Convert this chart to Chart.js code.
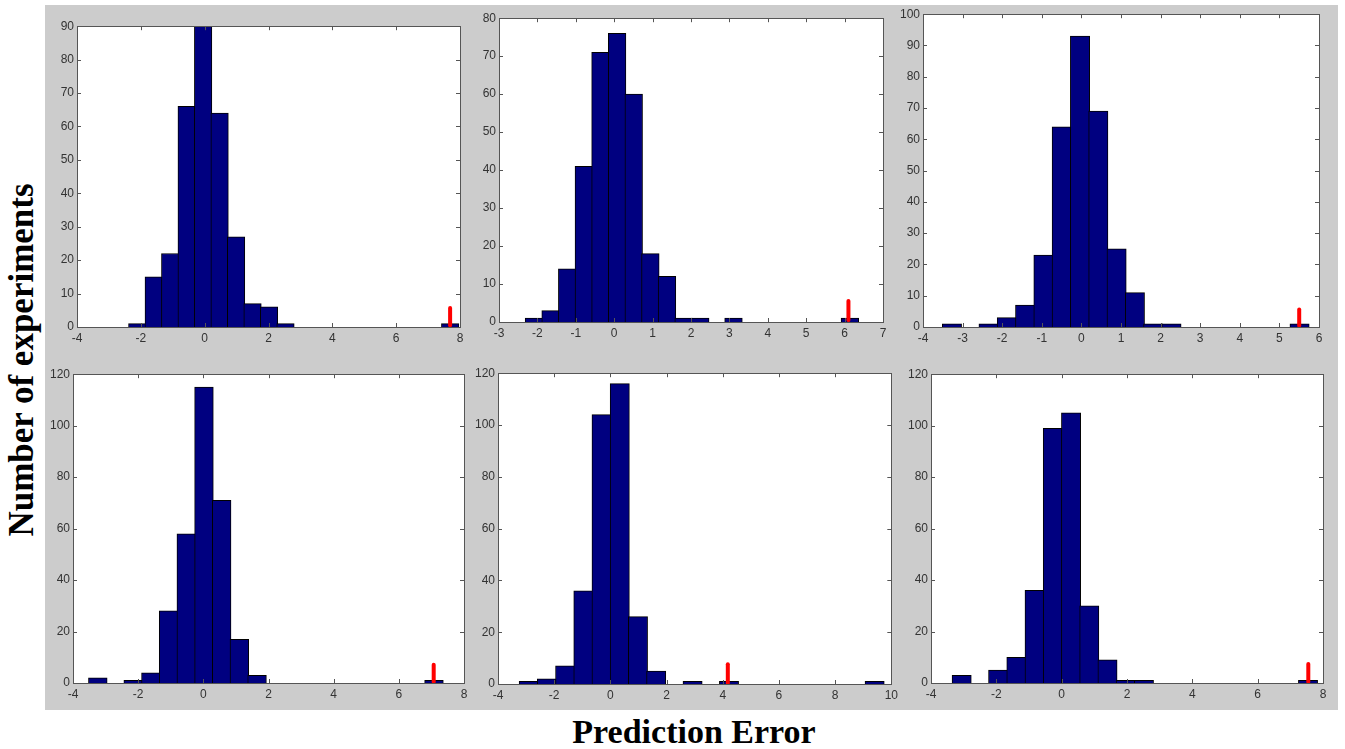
<!DOCTYPE html>
<html>
<head>
<meta charset="utf-8">
<title>Prediction error histograms</title>
<script src="https://cdn.jsdelivr.net/npm/chart.js@4.4.1/dist/chart.umd.min.js"></script>
<style>
  body { margin: 0; background: #fff; width: 1345px; height: 749px; position: relative; overflow: hidden; }
  #panel { position: absolute; left: 45px; top: 5px; width: 1293px; height: 705px; background: #cccccc; }
  canvas { position: absolute; }
  .ytitle {
    position: absolute; left: 22px; top: 360px;
    transform: translate(-50%, -50%) rotate(-90deg);
    font: bold 35px "Liberation Serif", "Times New Roman", serif; white-space: nowrap; color: #000;
  }
  .xtitle {
    position: absolute; left: 694px; top: 713px; transform: translateX(-50%);
    font: bold 34px "Liberation Serif", "Times New Roman", serif; white-space: nowrap; color: #000;
  }
</style>
</head>
<body>
<div id="panel"></div>
<div class="ytitle">Number of experiments</div>
<div class="xtitle">Prediction Error</div>

<script>
// histogram data, one entry per panel (top row left to right, then bottom row)
const binStarts = [-2.37, -2.306, -3.50, -3.51, -3.23, -3.34];
const binWidths = [0.516, 0.433, 0.462, 0.543, 0.648, 0.558];

const counts1 = [1, 15, 22, 66, 90, 64, 27, 7, 6, 1, 0, 0, 0, 0, 0, 0, 0, 0, 0, 1];
const counts2 = [1, 3, 14, 41, 71, 76, 60, 18, 12, 1, 1, 0, 1, 0, 0, 0, 0, 0, 0, 1];
const counts3 = [1, 0, 1, 3, 7, 23, 64, 93, 69, 25, 11, 1, 1, 0, 0, 0, 0, 0, 0, 1];
const counts4 = [2, 0, 1, 4, 28, 58, 115, 71, 17, 3, 0, 0, 0, 0, 0, 0, 0, 0, 0, 1];
const counts5 = [1, 2, 7, 36, 104, 116, 26, 5, 0, 1, 0, 1, 0, 0, 0, 0, 0, 0, 0, 1];
const counts6 = [3, 0, 5, 10, 36, 99, 105, 30, 9, 1, 1, 0, 0, 0, 0, 0, 0, 0, 0, 1];
const allCounts = [counts1, counts2, counts3, counts4, counts5, counts6];

// red marker (position of the tested value)
const markerX = [7.69, 6.10, 5.50, 7.07, 4.18, 7.55];
const markerTop = [5.7, 5.5, 5.6, 7.1, 7.6, 7.4];

// axis ranges / tick steps
const xMins = [-4, -3, -4, -4, -4, -4];
const xMaxs = [8, 7, 6, 8, 10, 8];
const xSteps = [2, 1, 1, 2, 2, 2];
const yMaxs = [90, 80, 100, 120, 120, 120];
const ySteps = [10, 10, 10, 20, 20, 20];

// plot area of each panel on the page (left, top, right, bottom)
const plotBoxes = [
  [77, 26, 460, 327], [499, 18, 883, 322], [923, 14, 1319, 327],
  [73, 374, 464, 683], [498, 373, 892, 684], [931, 374, 1323, 683]
];

const Y_AXIS_W = 40, X_AXIS_H = 24, PAD = 10;

// white plot background, box frame and inward tick marks like the original
const boxTicks = {
  id: 'boxTicks',
  beforeDatasetsDraw(chart) {
    const { ctx, chartArea: a } = chart;
    ctx.save();
    ctx.fillStyle = '#ffffff';
    ctx.fillRect(a.left, a.top, a.right - a.left, a.bottom - a.top);
    ctx.restore();
  },
  afterDatasetsDraw(chart) {
    const { ctx, chartArea: a, scales } = chart;
    ctx.save();
    ctx.strokeStyle = '#555555';
    ctx.lineWidth = 1;
    ctx.beginPath();
    scales.x.ticks.forEach(t => {
      const px = Math.round(scales.x.getPixelForValue(t.value)) + 0.5;
      ctx.moveTo(px, a.bottom); ctx.lineTo(px, a.bottom - 4);
      ctx.moveTo(px, a.top); ctx.lineTo(px, a.top + 4);
    });
    scales.y.ticks.forEach(t => {
      const py = Math.round(scales.y.getPixelForValue(t.value)) + 0.5;
      ctx.moveTo(a.left, py); ctx.lineTo(a.left + 4, py);
      ctx.moveTo(a.right, py); ctx.lineTo(a.right - 4, py);
    });
    ctx.stroke();
    ctx.strokeRect(Math.round(a.left) + 0.5, Math.round(a.top) + 0.5,
      Math.round(a.right - a.left), Math.round(a.bottom - a.top));
    ctx.restore();
  }
};

const tickFont = { family: '"Liberation Sans", Arial, sans-serif', size: 12 };

allCounts.forEach((counts, i) => {
  const [L, T, R, B] = plotBoxes[i];
  const canvas = document.createElement('canvas');
  const w = R - L + Y_AXIS_W + PAD;
  const h = B - T + PAD + X_AXIS_H;
  canvas.width = w;
  canvas.height = h;
  canvas.style.left = (L - Y_AXIS_W) + 'px';
  canvas.style.top = (T - PAD) + 'px';
  document.body.appendChild(canvas);

  const bins = counts.map((c, k) => ({ x: binStarts[i] + (k + 0.5) * binWidths[i], y: c }));
  const pxPerBin = (R - L) * binWidths[i] / (xMaxs[i] - xMins[i]);

  new Chart(canvas.getContext('2d'), {
    type: 'bar',
    data: {
      datasets: [
        {
          type: 'line',
          data: [{ x: markerX[i], y: 0.5 }, { x: markerX[i], y: markerTop[i] }],
          borderColor: '#ff0000',
          borderWidth: 4,
          borderCapStyle: 'round',
          pointRadius: 0,
          order: 0
        },
        {
          data: bins,
          backgroundColor: '#000080',
          borderColor: '#000000',
          borderWidth: { top: 1, left: 1, right: 1, bottom: 0 },
          borderSkipped: false,
          barThickness: pxPerBin + 1,
          order: 1
        }
      ]
    },
    options: {
      responsive: false,
      animation: false,
      events: [],
      layout: { padding: { top: PAD, right: PAD, left: 0, bottom: 0 } },
      plugins: { legend: { display: false }, tooltip: { enabled: false } },
      scales: {
        x: {
          type: 'linear',
          offset: false,
          min: xMins[i], max: xMaxs[i],
          grid: { display: false, drawTicks: false, offset: false },
          border: { display: false },
          ticks: { stepSize: xSteps[i], color: '#333333', font: tickFont, padding: 4, maxRotation: 0 },
          afterFit(scale) { scale.height = X_AXIS_H; }
        },
        y: {
          min: 0, max: yMaxs[i],
          grid: { display: false, drawTicks: false },
          border: { display: false },
          ticks: { stepSize: ySteps[i], color: '#333333', font: tickFont, padding: 3 },
          afterFit(scale) { scale.width = Y_AXIS_W; }
        }
      }
    },
    plugins: [boxTicks]
  });
});
</script>
</body>
</html>
